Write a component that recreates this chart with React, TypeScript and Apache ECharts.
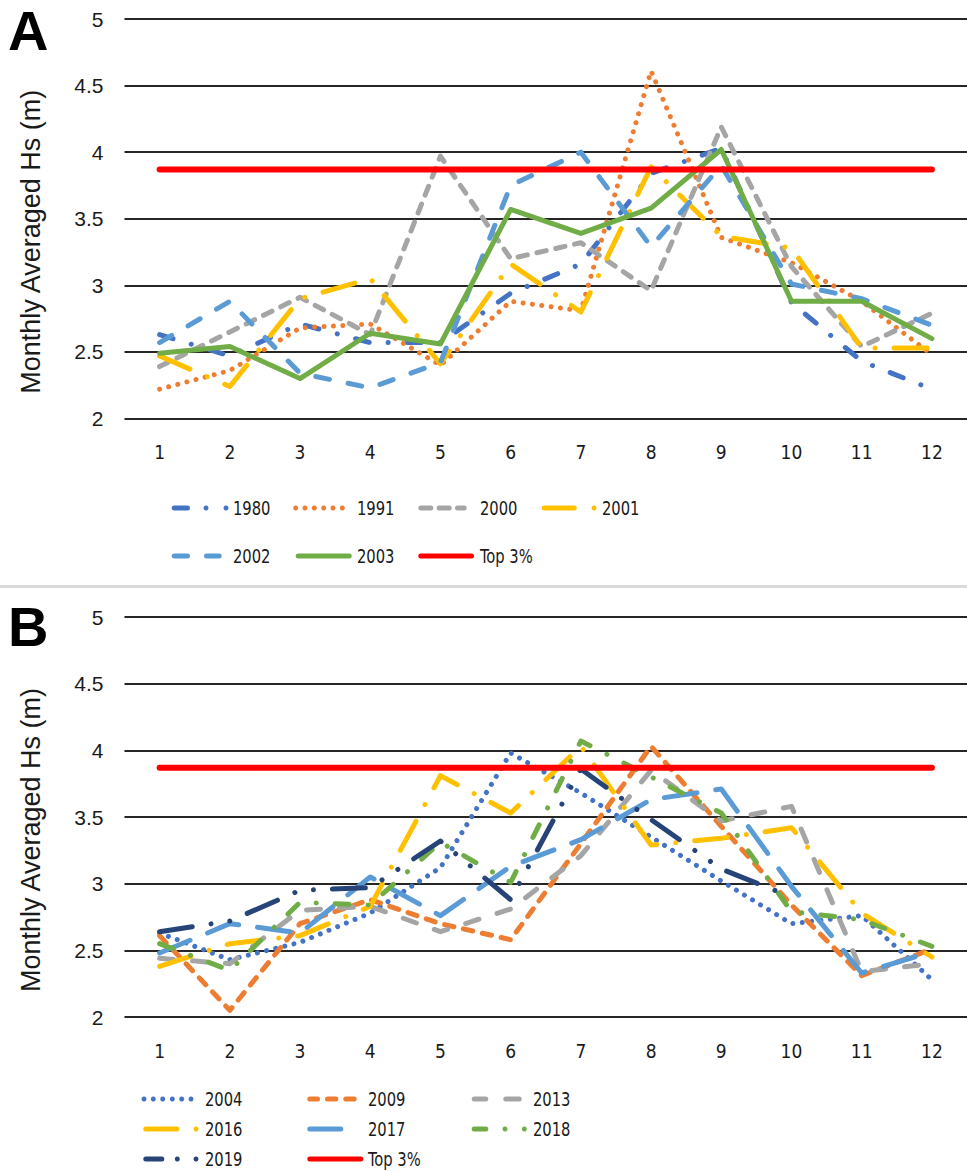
import React, { useEffect, useRef } from "react";
import * as echarts from "echarts";

// Months on the category axis
const months = ["1", "2", "3", "4", "5", "6", "7", "8", "9", "10", "11", "12"];

// Value axis range (m)
const yMin = 2;
const yMax = 5;
const yStep = 0.5;

// Panel A: monthly averaged Hs (m)
const hs1980 = [2.63, 2.47, 2.71, 2.57, 2.57, 2.94, 3.16, 3.84, 4.03, 2.87, 2.43, 2.22];
const hs1991 = [2.22, 2.36, 2.68, 2.71, 2.40, 2.88, 2.81, 4.61, 3.36, 3.17, 2.88, 2.48];
const hs2000 = [2.39, 2.65, 2.91, 2.63, 3.97, 3.20, 3.32, 2.96, 4.19, 3.14, 2.54, 2.79];
const hs2001 = [2.47, 2.24, 2.90, 3.05, 2.41, 3.16, 2.80, 3.89, 3.37, 3.28, 2.53, 2.53];
const hs2002 = [2.57, 2.88, 2.34, 2.23, 2.42, 3.75, 4.00, 3.29, 3.90, 3.01, 2.90, 2.70];
const hs2003 = [2.49, 2.54, 2.30, 2.64, 2.56, 3.57, 3.39, 3.58, 4.02, 2.88, 2.88, 2.60];

// Panel B: monthly averaged Hs (m)
const hs2004 = [2.63, 2.43, 2.56, 2.78, 3.12, 3.98, 3.68, 3.35, 3.02, 2.70, 2.76, 2.28];
const hs2009 = [2.61, 2.05, 2.70, 2.88, 2.70, 2.58, 3.30, 4.03, 3.43, 2.84, 2.31, 2.51];
const hs2013 = [2.44, 2.40, 2.80, 2.83, 2.64, 2.81, 3.21, 3.85, 3.47, 3.58, 2.34, 2.40];
const hs2016 = [2.38, 2.55, 2.61, 2.83, 3.81, 3.53, 4.03, 3.29, 3.34, 3.42, 2.78, 2.45];
const hs2017 = [2.48, 2.70, 2.63, 3.05, 2.76, 3.13, 3.33, 3.63, 3.71, 2.98, 2.33, 2.49];
const hs2018 = [2.55, 2.35, 2.86, 2.84, 3.31, 3.01, 4.07, 3.80, 3.53, 2.79, 2.73, 2.53];
const hs2019 = [2.64, 2.72, 2.95, 2.97, 3.32, 2.88, 3.86, 3.48, 3.11, 2.90, null, null];

// Top 3% threshold (m)
const top3 = 3.87;

const C = {
  blue: "#4472C4",
  orange: "#ED7D31",
  gray: "#A5A5A5",
  gold: "#FFC000",
  sky: "#5B9BD5",
  green: "#70AD47",
  navy: "#264478",
  red: "#FF0000",
};

const TEXT = "#1a1a1a";
const SANS = "'Liberation Sans', Arial, sans-serif";
const NARROW = "'DejaVu Sans Condensed', 'Liberation Sans', sans-serif";

const W = 5;
// Dash patterns (round caps add half a width on each end)
const DASH: Record<string, any> = {
  solid: "solid",
  sysDot: [0.01, 9.4],
  sysDash: [9.5, 9.8],
  dash: [14, 19],
  dashDot: [14, 19, 0.01, 19],
  lgDash: [33, 19],
  lgDashDot: [33, 19, 0.01, 19],
  lgDashDotDot: [33, 19, 0.01, 19, 0.01, 19],
};

function line(name: string, data: (number | null)[], color: string, dash: string, panel: number, width = W) {
  return {
    type: "line",
    name,
    xAxisIndex: panel,
    yAxisIndex: panel,
    data,
    showSymbol: false,
    symbol: "none",
    connectNulls: false,
    lineStyle: { color, width, type: DASH[dash], cap: "round", join: "round" },
    emphasis: { disabled: true },
  };
}

const thresholdA = months.map(() => top3);
const thresholdB = months.map(() => top3);

// Legend entries: icon pieces (segments / dots) and label position
type Key = { label: string; color: string; segs: number[][]; dots: number[]; tx: number; y: number };
const legendA: Key[] = [
  { label: "1980", color: C.blue, segs: [[171.7, 190]], dots: [206, 226], tx: 233, y: 508 },
  { label: "1991", color: C.orange, segs: [], dots: [295.7, 305, 314.3, 323.7, 333, 342.3], tx: 357, y: 508 },
  { label: "2000", color: C.gray, segs: [[418.3, 433.3], [436.7, 451.7], [455, 466.7]], dots: [], tx: 480, y: 508 },
  { label: "2001", color: C.gold, segs: [[541.7, 576.7]], dots: [594], tx: 602, y: 508 },
  { label: "2002", color: C.sky, segs: [[171.7, 190], [204, 221.7]], dots: [], tx: 233, y: 556 },
  { label: "2003", color: C.green, segs: [[295.7, 351.7]], dots: [], tx: 357, y: 556 },
  { label: "Top 3%", color: C.red, segs: [[418.3, 474]], dots: [], tx: 480, y: 556 },
];
const legendB: Key[] = [
  { label: "2004", color: C.blue, segs: [], dots: [144, 153.3, 162.7, 172.3, 181.7, 191], tx: 205, y: 1099 },
  { label: "2009", color: C.orange, segs: [[307.3, 320], [325, 338.3], [343.3, 356.7]], dots: [], tx: 368, y: 1099 },
  { label: "2013", color: C.gray, segs: [[471.7, 488.3], [503.3, 521.7]], dots: [], tx: 533, y: 1099 },
  { label: "2016", color: C.gold, segs: [[143.3, 179.3]], dots: [196], tx: 205, y: 1129 },
  { label: "2017", color: C.sky, segs: [[307.3, 343.3]], dots: [], tx: 368, y: 1129 },
  { label: "2018", color: C.green, segs: [[471.7, 488.3]], dots: [505, 524.3], tx: 533, y: 1129 },
  { label: "2019", color: C.navy, segs: [[143.3, 164.3]], dots: [177.3, 196], tx: 205, y: 1159 },
  { label: "Top 3%", color: C.red, segs: [[307.3, 363.3]], dots: [], tx: 368, y: 1159 },
];

function legendGraphics(keys: Key[]) {
  const out: any[] = [];
  keys.forEach((k) => {
    k.segs.forEach(([a, b]) => {
      out.push({
        type: "line",
        shape: { x1: a + W / 2, y1: k.y, x2: b - W / 2, y2: k.y },
        style: { stroke: k.color, lineWidth: W, lineCap: "round" },
        silent: true,
      });
    });
    k.dots.forEach((d) => {
      out.push({ type: "circle", shape: { cx: d, cy: k.y, r: W / 2 }, style: { fill: k.color }, silent: true });
    });
    out.push({
      type: "text",
      x: k.tx,
      y: k.y,
      scaleX: 0.82,
      style: { text: k.label, fill: TEXT, fontSize: 20, fontFamily: NARROW, verticalAlign: "middle", align: "left" },
      silent: true,
    });
  });
  return out;
}

function axesFor(panel: number) {
  return {
    x: {
      type: "category",
      gridIndex: panel,
      data: months,
      boundaryGap: true,
      axisLine: { show: false },
      axisTick: { show: false },
      splitLine: { show: false },
      axisLabel: { color: TEXT, fontSize: 19, fontFamily: NARROW, margin: 24 },
    },
    y: {
      type: "value",
      gridIndex: panel,
      min: yMin,
      max: yMax,
      interval: yStep,
      name: "Monthly Averaged Hs (m)",
      nameLocation: "middle",
      nameRotate: 90,
      nameGap: 80,
      nameTextStyle: { color: TEXT, fontSize: 27, fontFamily: SANS, padding: [0, 46, 0, 0] },
      axisLine: { show: false },
      axisTick: { show: false },
      axisLabel: { color: TEXT, fontSize: 21, fontFamily: SANS, margin: 21 },
      splitLine: { show: true, lineStyle: { color: "#262626", width: 2 } },
    },
  };
}

export default function App() {
  const ref = useRef<HTMLDivElement>(null);

  useEffect(() => {
    if (!ref.current) return;
    const chart = echarts.init(ref.current, undefined, { renderer: "svg" });
    const a = axesFor(0);
    const b = axesFor(1);
    chart.setOption({
      animation: false,
      backgroundColor: "#ffffff",
      grid: [
        { left: 124.5, top: 19, width: 853, height: 399.5 },
        { left: 124.5, top: 617, width: 853, height: 400 },
      ],
      xAxis: [a.x, b.x],
      yAxis: [a.y, b.y],
      series: [
        line("1980", hs1980, C.blue, "dashDot", 0),
        line("1991", hs1991, C.orange, "sysDot", 0),
        line("2000", hs2000, C.gray, "sysDash", 0),
        line("2001", hs2001, C.gold, "lgDashDot", 0),
        line("2002", hs2002, C.sky, "dash", 0),
        line("2003", hs2003, C.green, "solid", 0),
        line("Top 3%", thresholdA, C.red, "solid", 0, 6),
        line("2004", hs2004, C.blue, "sysDot", 1),
        line("2009", hs2009, C.orange, "sysDash", 1),
        line("2013", hs2013, C.gray, "dash", 1),
        line("2016", hs2016, C.gold, "lgDashDot", 1),
        line("2017", hs2017, C.sky, "lgDash", 1),
        line("2018", hs2018, C.green, "dashDot", 1),
        line("2019", hs2019, C.navy, "lgDashDotDot", 1),
        line("Top 3%", thresholdB, C.red, "solid", 1, 6),
      ],
      graphic: [
        { type: "rect", shape: { x: 0, y: 585, width: 967, height: 3 }, style: { fill: "#d9d9d9" }, silent: true },
        {
          type: "text",
          x: 8,
          y: 30,
          style: { text: "A", fill: "#000", fontSize: 56, fontWeight: "bold", fontFamily: SANS, verticalAlign: "middle" },
          silent: true,
        },
        {
          type: "text",
          x: 8,
          y: 626,
          style: { text: "B", fill: "#000", fontSize: 56, fontWeight: "bold", fontFamily: SANS, verticalAlign: "middle" },
          silent: true,
        },
        ...legendGraphics(legendA),
        ...legendGraphics(legendB),
      ],
    });
    return () => chart.dispose();
  }, []);

  return (
    <div
      ref={ref}
      style={{ position: "absolute", left: 0, top: 0, width: 967, height: 1171, background: "#fff" }}
    />
  );
}
